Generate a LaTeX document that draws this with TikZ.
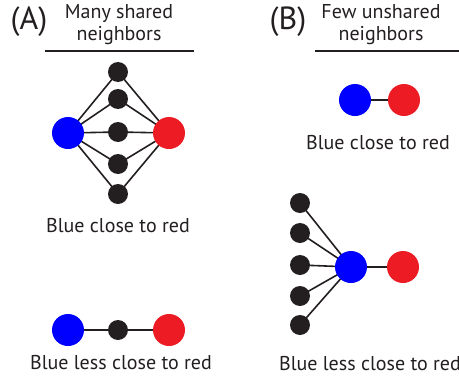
\documentclass[tikz,border=0pt]{standalone}
\usepackage{fontspec}
\setmainfont{PT Sans}
\usetikzlibrary{backgrounds}
\definecolor{nblack}{HTML}{231F20}
\definecolor{nred}{HTML}{ED1C24}
\definecolor{nblue}{HTML}{0000FF}
\tikzset{
  bignode/.style={circle, inner sep=0pt, minimum size=32pt},
  bluenode/.style={bignode, fill=nblue},
  rednode/.style={bignode, fill=nred},
  blacknode/.style={circle, inner sep=0pt, minimum size=20pt, fill=nblack},
  edge/.style={draw=nblack, line width=1.6pt},
  caption/.style={font=\fontsize{20}{20}\selectfont, text=nblack},
  heading/.style={font=\fontsize{20}{22}\selectfont, text=nblack, align=center},
  panel/.style={font=\fontsize{32}{32}\selectfont, text=nblack},
  rule/.style={draw=nblack, line width=1.2pt}
}
\begin{document}
\begin{tikzpicture}[x=1pt, y=-1pt]
\useasboundingbox (0,0) rectangle (459,378);

% ---- panel A ----
\node[panel] (labA) at (29,22) {(A)};
\node[heading] (headA) at (119,25) {Many shared\\neighbors};
\coordinate (ruleAl) at (45,51);
\coordinate (ruleAr) at (194,51);
\draw[rule] (ruleAl) -- (ruleAr);

\node[bluenode] (aB) at (68,133) {};
\node[rednode] (aR) at (169,133) {};
\foreach \i/\y in {1/72,2/99,3/132,4/164,5/194} {
  \node[blacknode] (aN\i) at (118,\y) {};
}
\begin{scope}[on background layer]
\foreach \i in {1,...,5} {
  \draw[edge] (aB.center) -- (aN\i.center) -- (aR.center);
}
\end{scope}
\node[caption] (capA1) at (118,226) {Blue close to red};

\node[bluenode] (aB2) at (68,330) {};
\node[blacknode] (aN6) at (118,330) {};
\node[rednode] (aR2) at (169,330) {};
\draw[edge] (aB2) -- (aN6) -- (aR2);
\node[caption] (capA2) at (121,363) {Blue less close to red};

% ---- panel B ----
\node[panel] (labB) at (288,22) {(B)};
\node[heading] (headB) at (381,25) {Few unshared\\neighbors};
\coordinate (ruleBl) at (315,51);
\coordinate (ruleBr) at (459,51);
\draw[rule] (ruleBl) -- (ruleBr);

\node[bluenode] (bB) at (355,100) {};
\node[rednode] (bR) at (404,100) {};
\draw[edge] (bB) -- (bR);
\node[caption] (capB1) at (378,143) {Blue close to red};

\node[bluenode] (bB2) at (351,267) {};
\node[rednode] (bR2) at (403,267) {};
\draw[edge] (bB2) -- (bR2);
\foreach \i/\y in {1/203,2/233,3/265,4/296,5/325} {
  \node[blacknode] (bN\i) at (300,\y) {};
}
\begin{scope}[on background layer]
\foreach \i in {1,...,5} {
  \draw[edge] (bN\i.center) -- (bB2.center);
}
\end{scope}
\node[caption] (capB2) at (370,364) {Blue less close to red};
\end{tikzpicture}
\end{document}
